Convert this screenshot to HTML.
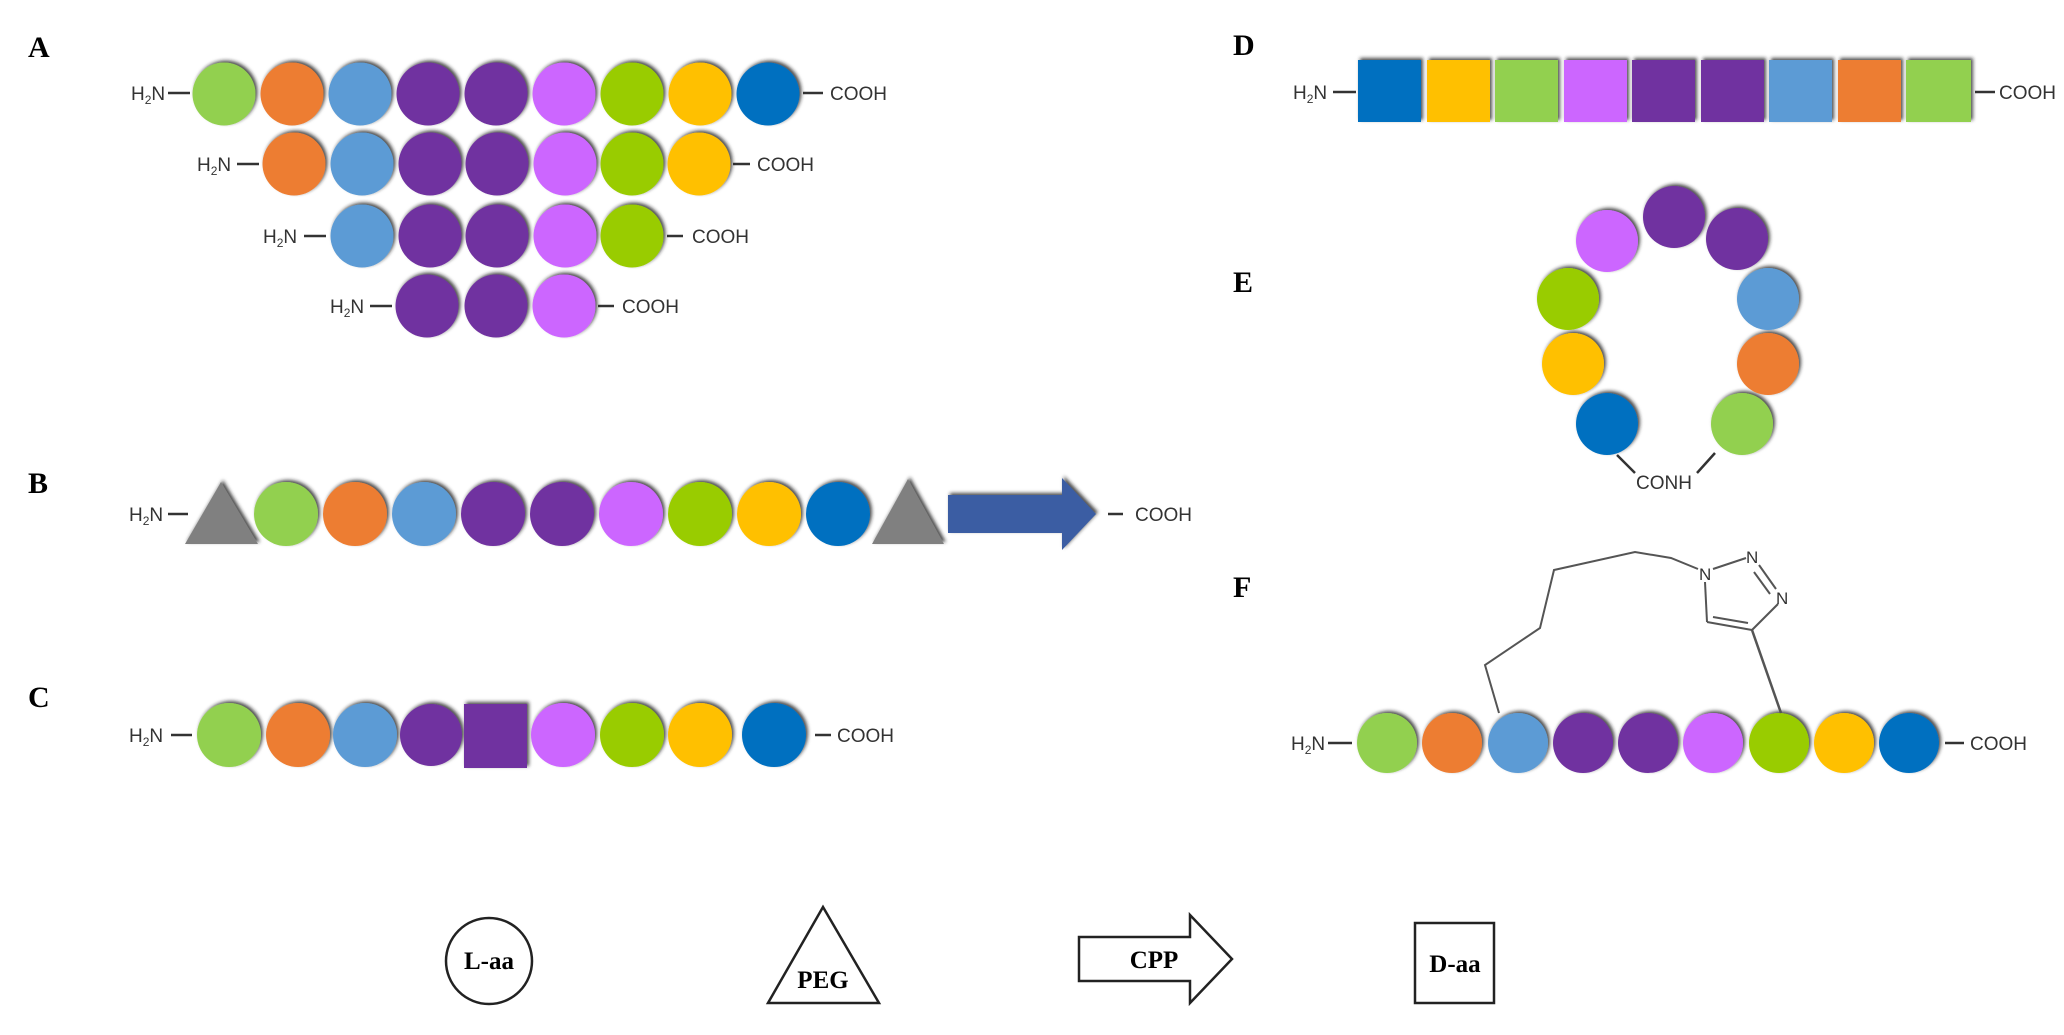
<!DOCTYPE html>
<html><head><meta charset="utf-8"><style>
html,body{margin:0;padding:0;background:#fff;}
svg{display:block;}
.t{font-family:"Liberation Sans",sans-serif;font-size:19px;fill:#333;}
.L{font-family:"Liberation Serif",serif;font-weight:bold;font-size:30px;fill:#000;}
.g{font-family:"Liberation Serif",serif;font-weight:bold;font-size:25px;fill:#000;}
</style></head><body>
<svg width="2064" height="1035" viewBox="0 0 2064 1035" xmlns="http://www.w3.org/2000/svg">
<defs>
<filter id="sh" x="-20%" y="-20%" width="140%" height="140%"><feDropShadow dx="2" dy="-2" stdDeviation="1.8" flood-color="#222" flood-opacity="0.8"/></filter>
</defs>
<!-- labels -->
<text class="L" x="28" y="57">A</text>
<text class="L" x="28" y="493">B</text>
<text class="L" x="28" y="707">C</text>
<text class="L" x="1233" y="55">D</text>
<text class="L" x="1233" y="292">E</text>
<text class="L" x="1233" y="597">F</text>

<g stroke="#333" stroke-width="2.5">
<line x1="168" y1="93" x2="190" y2="93"/><line x1="803" y1="93" x2="823" y2="93"/>
<line x1="237" y1="164" x2="259" y2="164"/><line x1="733" y1="164" x2="750" y2="164"/>
<line x1="304" y1="236" x2="326" y2="236"/><line x1="667" y1="236" x2="683" y2="236"/>
<line x1="370" y1="306" x2="392" y2="306"/><line x1="598" y1="306" x2="614" y2="306"/>
<line x1="168" y1="514" x2="188" y2="514"/><line x1="1108" y1="514" x2="1123" y2="514"/>
<line x1="171" y1="735" x2="192" y2="735"/><line x1="815" y1="735" x2="831" y2="735"/>
<line x1="1333" y1="92" x2="1356" y2="92"/><line x1="1975" y1="92" x2="1995" y2="92"/>
<line x1="1328" y1="743" x2="1352" y2="743"/><line x1="1945" y1="743" x2="1964" y2="743"/>
</g>
<g class="t">
<text x="131" y="100">H<tspan font-size="12" dy="4">2</tspan><tspan dy="-4">N</tspan></text>
<text x="830" y="100">COOH</text>
<text x="197" y="171">H<tspan font-size="12" dy="4">2</tspan><tspan dy="-4">N</tspan></text>
<text x="757" y="171">COOH</text>
<text x="263" y="243">H<tspan font-size="12" dy="4">2</tspan><tspan dy="-4">N</tspan></text>
<text x="692" y="243">COOH</text>
<text x="330" y="313">H<tspan font-size="12" dy="4">2</tspan><tspan dy="-4">N</tspan></text>
<text x="622" y="313">COOH</text>
<text x="129" y="521">H<tspan font-size="12" dy="4">2</tspan><tspan dy="-4">N</tspan></text>
<text x="1135" y="521">COOH</text>
<text x="129" y="742">H<tspan font-size="12" dy="4">2</tspan><tspan dy="-4">N</tspan></text>
<text x="837" y="742">COOH</text>
<text x="1293" y="99">H<tspan font-size="12" dy="4">2</tspan><tspan dy="-4">N</tspan></text>
<text x="1999" y="99">COOH</text>
<text x="1291" y="750">H<tspan font-size="12" dy="4">2</tspan><tspan dy="-4">N</tspan></text>
<text x="1970" y="750">COOH</text>
<text x="1636" y="489">CONH</text>
</g>

<g filter="url(#sh)">
<!-- A row1 -->
<circle cx="224" cy="94" r="31.5" fill="#92d050"/>
<circle cx="292" cy="94" r="31.5" fill="#ed7d31"/>
<circle cx="360" cy="94" r="31.5" fill="#5b9bd5"/>
<circle cx="428" cy="94" r="31.5" fill="#7030a0"/>
<circle cx="496" cy="94" r="31.5" fill="#7030a0"/>
<circle cx="564" cy="94" r="31.5" fill="#cc66ff"/>
<circle cx="632" cy="94" r="31.5" fill="#99cc00"/>
<circle cx="700" cy="94" r="31.5" fill="#ffc000"/>
<circle cx="768" cy="94" r="31.5" fill="#0070c0"/>
<!-- row2 -->
<circle cx="294" cy="164" r="31.5" fill="#ed7d31"/>
<circle cx="362" cy="164" r="31.5" fill="#5b9bd5"/>
<circle cx="430" cy="164" r="31.5" fill="#7030a0"/>
<circle cx="497" cy="164" r="31.5" fill="#7030a0"/>
<circle cx="565" cy="164" r="31.5" fill="#cc66ff"/>
<circle cx="632" cy="164" r="31.5" fill="#99cc00"/>
<circle cx="699" cy="164" r="31.5" fill="#ffc000"/>
<!-- row3 -->
<circle cx="362" cy="236" r="31.5" fill="#5b9bd5"/>
<circle cx="430" cy="236" r="31.5" fill="#7030a0"/>
<circle cx="497" cy="236" r="31.5" fill="#7030a0"/>
<circle cx="565" cy="236" r="31.5" fill="#cc66ff"/>
<circle cx="632" cy="236" r="31.5" fill="#99cc00"/>
<!-- row4 -->
<circle cx="427" cy="306" r="31.5" fill="#7030a0"/>
<circle cx="496" cy="306" r="31.5" fill="#7030a0"/>
<circle cx="564" cy="306" r="31.5" fill="#cc66ff"/>

<!-- B -->
<polygon points="185,544 221,482 258,544" fill="#808080"/>
<circle cx="286" cy="514" r="32" fill="#92d050"/>
<circle cx="355" cy="514" r="32" fill="#ed7d31"/>
<circle cx="424" cy="514" r="32" fill="#5b9bd5"/>
<circle cx="493" cy="514" r="32" fill="#7030a0"/>
<circle cx="562" cy="514" r="32" fill="#7030a0"/>
<circle cx="631" cy="514" r="32" fill="#cc66ff"/>
<circle cx="700" cy="514" r="32" fill="#99cc00"/>
<circle cx="769" cy="514" r="32" fill="#ffc000"/>
<circle cx="838" cy="514" r="32" fill="#0070c0"/>
<polygon points="872,544 908,479 944,544" fill="#808080"/>
<polygon points="948,495 1062,495 1062,478 1096,514 1062,550 1062,533 948,533" fill="#3a5da3"/>

<!-- C -->
<circle cx="229" cy="735" r="32" fill="#92d050"/>
<circle cx="298" cy="735" r="32" fill="#ed7d31"/>
<circle cx="365" cy="735" r="32" fill="#5b9bd5"/>
<circle cx="431" cy="735" r="31" fill="#7030a0"/>
<rect x="464" y="704" width="63" height="64" fill="#7030a0"/>
<circle cx="563" cy="735" r="32" fill="#cc66ff"/>
<circle cx="632" cy="735" r="32" fill="#99cc00"/>
<circle cx="700" cy="735" r="32" fill="#ffc000"/>
<circle cx="774" cy="735" r="32" fill="#0070c0"/>

<!-- D -->
<rect x="1358" y="60" width="63" height="62" fill="#0070c0"/>
<rect x="1427" y="60" width="63" height="62" fill="#ffc000"/>
<rect x="1495" y="60" width="63" height="62" fill="#92d050"/>
<rect x="1564" y="60" width="63" height="62" fill="#cc66ff"/>
<rect x="1632" y="60" width="63" height="62" fill="#7030a0"/>
<rect x="1701" y="60" width="63" height="62" fill="#7030a0"/>
<rect x="1769" y="60" width="63" height="62" fill="#5b9bd5"/>
<rect x="1838" y="60" width="63" height="62" fill="#ed7d31"/>
<rect x="1906" y="60" width="65" height="62" fill="#92d050"/>

<!-- E -->
<circle cx="1607" cy="241" r="31" fill="#cc66ff"/>
<circle cx="1674" cy="217" r="31" fill="#7030a0"/>
<circle cx="1737" cy="239" r="31" fill="#7030a0"/>
<circle cx="1768" cy="299" r="31" fill="#5b9bd5"/>
<circle cx="1768" cy="364" r="31" fill="#ed7d31"/>
<circle cx="1742" cy="424" r="31" fill="#92d050"/>
<circle cx="1607" cy="424" r="31" fill="#0070c0"/>
<circle cx="1573" cy="364" r="31" fill="#ffc000"/>
<circle cx="1568" cy="299" r="31" fill="#99cc00"/>

<!-- F -->
<circle cx="1387" cy="743" r="30" fill="#92d050"/>
<circle cx="1452" cy="743" r="30" fill="#ed7d31"/>
<circle cx="1518" cy="743" r="30" fill="#5b9bd5"/>
<circle cx="1583" cy="743" r="30" fill="#7030a0"/>
<circle cx="1648" cy="743" r="30" fill="#7030a0"/>
<circle cx="1713" cy="743" r="30" fill="#cc66ff"/>
<circle cx="1779" cy="743" r="30" fill="#99cc00"/>
<circle cx="1844" cy="743" r="30" fill="#ffc000"/>
<circle cx="1909" cy="743" r="30" fill="#0070c0"/>
</g>

<!-- E connectors -->
<g stroke="#333" stroke-width="2.5">
<line x1="1617" y1="455" x2="1635" y2="473"/>
<line x1="1715" y1="453" x2="1697" y2="473"/>
</g>

<!-- F linker -->
<g fill="none" stroke="#555" stroke-width="2">
<polyline points="1499,713 1485,665 1540,628 1554,570 1635,552 1671,558 1698,569"/>
<line x1="1713" y1="569" x2="1746" y2="558"/>
<line x1="1759" y1="565" x2="1776" y2="589"/>
<line x1="1754" y1="572" x2="1770" y2="594"/>
<line x1="1778" y1="604" x2="1752" y2="630"/>
<line x1="1752" y1="630" x2="1707" y2="622"/>
<line x1="1748" y1="623" x2="1713" y2="617"/>
<line x1="1707" y1="622" x2="1705" y2="582"/>
<line x1="1752" y1="630" x2="1781" y2="713" stroke-width="2.5"/>
</g>
<g font-family="Liberation Sans,sans-serif" font-size="17" fill="#333">
<text x="1699" y="580">N</text>
<text x="1746" y="563">N</text>
<text x="1776" y="604">N</text>
</g>

<!-- legend -->
<g fill="none" stroke="#222" stroke-width="2.5">
<ellipse cx="489" cy="961" rx="43" ry="43"/>
<polygon points="823,907 768,1003 879,1003"/>
<polygon points="1079,937 1190,937 1190,915 1232,959 1190,1003 1190,981 1079,981"/>
<rect x="1415" y="923" width="79" height="80"/>
</g>
<g class="g" text-anchor="middle">
<text x="489" y="969">L-aa</text>
<text x="823" y="988">PEG</text>
<text x="1154" y="968">CPP</text>
<text x="1455" y="972">D-aa</text>
</g>
</svg>
</body></html>
